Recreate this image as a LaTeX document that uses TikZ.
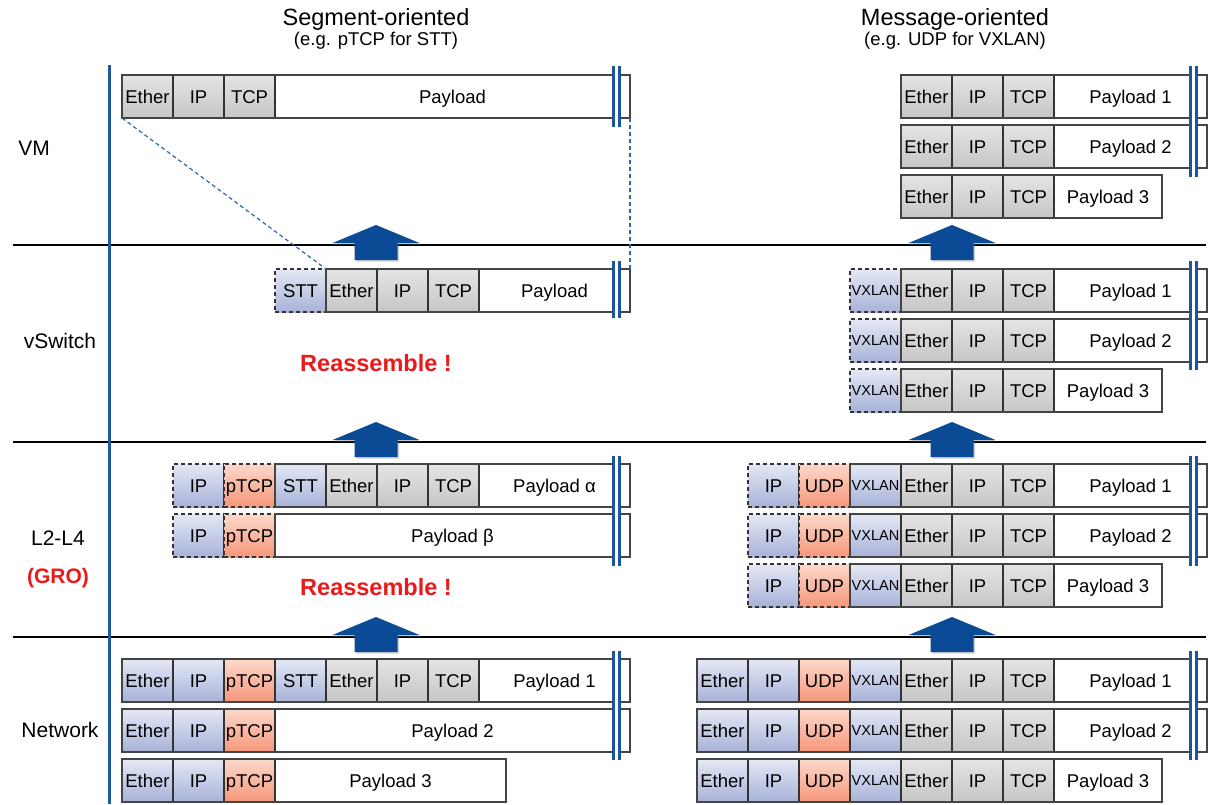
\documentclass[tikz,border=0pt]{standalone}
\usepackage{fontspec}
\setmainfont{Liberation Sans}
\usetikzlibrary{shadows}
\definecolor{g1}{HTML}{E4E4E4}
\definecolor{g2}{HTML}{C6C6C6}
\definecolor{b1}{HTML}{E4E8F5}
\definecolor{b2}{HTML}{A8B2D8}
\definecolor{o1}{HTML}{FDD8CA}
\definecolor{o2}{HTML}{F5977A}
\definecolor{cellline}{HTML}{333333}
\definecolor{boxline}{HTML}{444444}
\definecolor{axisblue}{HTML}{1F5A9E}
\definecolor{barblue}{HTML}{1A559E}
\definecolor{arrowblue}{HTML}{0B4A94}
\definecolor{dashblue}{HTML}{2A66B2}
\definecolor{redc}{RGB}{235,25,25}
\newcommand\cellfont{\fontsize{18.5}{20}\selectfont}
\newcommand\vxfont{\fontsize{14.5}{16}\selectfont}
\tikzset{
  cell/.style={draw=cellline, line width=1.2pt, inner sep=0pt, outer sep=0pt,
    minimum height=43pt, anchor=north west, font=\cellfont, text=black,
    text height=16pt, text depth=2pt},
  vx/.style={font=\vxfont, text height=12.4pt, text depth=2pt},
  ctype/.is choice,
  ctype/gr/.style={top color=g1, bottom color=g2},
  ctype/bl/.style={top color=b1, bottom color=b2},
  ctype/blv/.style={top color=b1, bottom color=b2, vx},
  ctype/og/.style={top color=o1, bottom color=o2},
  ctype/dsb/.style={top color=b1, bottom color=b2, dash pattern=on 4pt off 3pt},
  ctype/dsbv/.style={top color=b1, bottom color=b2, dash pattern=on 4pt off 3pt, vx},
  ctype/dso/.style={top color=o1, bottom color=o2, dash pattern=on 4pt off 3pt},
  outerbox/.style={draw=boxline, line width=1.8pt},
  layerline/.style={draw=black, line width=2.5pt},
  axisline/.style={draw=axisblue, line width=3pt},
  barline/.style={draw=barblue, line width=3pt},
  bigarrow/.style={fill=arrowblue, drop shadow={shadow xshift=1.5pt, shadow yshift=-1.5pt, opacity=0.35}},
  linkdash/.style={draw=dashblue, line width=1.2pt, dash pattern=on 4pt off 3pt},
  lbl/.style={font=\fontsize{21}{23}\selectfont, inner sep=0pt},
  ttl/.style={font=\fontsize{23.5}{26}\selectfont, inner sep=0pt},
  sub/.style={font=\fontsize{18.5}{20}\selectfont, inner sep=0pt},
  redtxt/.style={font=\bfseries\fontsize{23.5}{26}\selectfont, text=redc, inner sep=0pt},
}
% #1 prefix, #2 y top, #3 x of first cell, #4 list type/text, #5 payload right x, #6 payload text
\newcommand\pktrow[6]{%
  \foreach \st/\tx [count=\i] in {#4} {
    \pgfmathsetmacro\xa{#3+51*(\i-1)}
    \node[cell, ctype=\st, minimum width=51pt] (#1-\i) at (\xa,#2) {\tx};
    \xdef\lastx{\xa}
  }
  \pgfmathsetmacro\xb{\lastx+51}
  \node[cell, fill=white, minimum width={#5-\xb}] (#1-p) at (\xb,#2) {#6};
}
% break bars: #1 right edge x, #2 y1, #3 y2
\newcommand\brkbars[3]{%
  \fill[white] ({#1-18},#2) rectangle ({#1-9},#3);
  \draw[barline] ({#1-16.5},#2) -- ({#1-16.5},#3);
  \draw[barline] ({#1-10.5},#2) -- ({#1-10.5},#3);
}
% up arrow: #1 centre x, #2 layer line y
\newcommand\uparr[2]{%
  \fill[bigarrow] ({#1-21.5},{#2+15}) -- ({#1-21.5},{#2-2}) -- ({#1-43.5},{#2-2}) -- (#1,{#2-20})
    -- ({#1+43.5},{#2-2}) -- ({#1+21.5},{#2-2}) -- ({#1+21.5},{#2+15}) -- cycle;
}
\begin{document}
\begin{tikzpicture}[x=1pt,y=-1pt]
\useasboundingbox (0,0) rectangle (1217,804);
% titles
\node[ttl] (t1) at (376,19) {Segment-oriented};
\node[sub] (t1s) at (376,41) {(e.g. pTCP for STT)};
\node[ttl] (t2) at (955,19) {Message-oriented};
\node[sub] (t2s) at (955,41) {(e.g. UDP for VXLAN)};
% layer labels
\node[lbl] (lvm) at (34,148) {VM};
\node[lbl] (lsw) at (60,341) {vSwitch};
\node[lbl] (lll) at (58,538) {L2-L4};
\node[lbl, font=\bfseries\fontsize{21}{23}\selectfont, text=redc] (lgro) at (58,578) {(GRO)};
\node[lbl] (lnet) at (60,730) {Network};
% layer lines
\draw[layerline] (13,245) -- (1206,245);
\draw[layerline] (13,442) -- (1206,442);
\draw[layerline] (13,637) -- (1206,637);
\draw[axisline] (109,65) -- (109,804);
% arrows
\uparr{376}{245}
\uparr{376}{442}
\uparr{376}{637}
\uparr{952}{245}
\uparr{952}{442}
\uparr{952}{637}
% reassemble labels
\node[redtxt] (re1) at (376,363) {Reassemble !};
\node[redtxt] (re2) at (376,587) {Reassemble !};
% ---------- left column ----------
\pktrow{LVM}{75}{122}{gr/Ether, gr/IP, gr/TCP}{630}{Payload}
\draw[outerbox] (LVM-1.north west) rectangle (LVM-p.south east);
\pktrow{LSW}{269}{275}{dsb/STT, gr/Ether, gr/IP, gr/TCP}{630}{Payload}
\draw[outerbox] (LSW-2.north west) rectangle (LSW-p.south east);
\pktrow{LLa}{464}{173}{dsb/IP, dso/pTCP, bl/STT, gr/Ether, gr/IP, gr/TCP}{630}{Payload α}
\draw[outerbox] (LLa-3.north west) rectangle (LLa-p.south east);
\pktrow{LLb}{514}{173}{dsb/IP, dso/pTCP}{630}{Payload β}
\draw[outerbox] (LLb-p.north west) rectangle (LLb-p.south east);
\pktrow{LNa}{659}{122}{bl/Ether, bl/IP, og/pTCP, bl/STT, gr/Ether, gr/IP, gr/TCP}{630}{Payload 1}
\draw[outerbox] (LNa-1.north west) rectangle (LNa-p.south east);
\pktrow{LNb}{709}{122}{bl/Ether, bl/IP, og/pTCP}{630}{Payload 2}
\draw[outerbox] (LNb-1.north west) rectangle (LNb-p.south east);
\pktrow{LNc}{759}{122}{bl/Ether, bl/IP, og/pTCP}{506}{Payload 3}
\draw[outerbox] (LNc-1.north west) rectangle (LNc-p.south east);
% ---------- right column ----------
\pktrow{RVa}{75}{901}{gr/Ether, gr/IP, gr/TCP}{1207}{Payload 1}
\draw[outerbox] (RVa-1.north west) rectangle (RVa-p.south east);
\pktrow{RVb}{125}{901}{gr/Ether, gr/IP, gr/TCP}{1207}{Payload 2}
\draw[outerbox] (RVb-1.north west) rectangle (RVb-p.south east);
\pktrow{RVc}{175}{901}{gr/Ether, gr/IP, gr/TCP}{1162}{Payload 3}
\draw[outerbox] (RVc-1.north west) rectangle (RVc-p.south east);
\pktrow{RSa}{269}{850}{dsbv/VXLAN, gr/Ether, gr/IP, gr/TCP}{1207}{Payload 1}
\draw[outerbox] (RSa-2.north west) rectangle (RSa-p.south east);
\pktrow{RSb}{319}{850}{dsbv/VXLAN, gr/Ether, gr/IP, gr/TCP}{1207}{Payload 2}
\draw[outerbox] (RSb-2.north west) rectangle (RSb-p.south east);
\pktrow{RSc}{369}{850}{dsbv/VXLAN, gr/Ether, gr/IP, gr/TCP}{1162}{Payload 3}
\draw[outerbox] (RSc-2.north west) rectangle (RSc-p.south east);
\pktrow{RLa}{464}{748}{dsb/IP, dso/UDP, blv/VXLAN, gr/Ether, gr/IP, gr/TCP}{1207}{Payload 1}
\draw[outerbox] (RLa-3.north west) rectangle (RLa-p.south east);
\pktrow{RLb}{514}{748}{dsb/IP, dso/UDP, blv/VXLAN, gr/Ether, gr/IP, gr/TCP}{1207}{Payload 2}
\draw[outerbox] (RLb-3.north west) rectangle (RLb-p.south east);
\pktrow{RLc}{564}{748}{dsb/IP, dso/UDP, blv/VXLAN, gr/Ether, gr/IP, gr/TCP}{1162}{Payload 3}
\draw[outerbox] (RLc-3.north west) rectangle (RLc-p.south east);
\pktrow{RNa}{659}{697}{bl/Ether, bl/IP, og/UDP, blv/VXLAN, gr/Ether, gr/IP, gr/TCP}{1207}{Payload 1}
\draw[outerbox] (RNa-1.north west) rectangle (RNa-p.south east);
\pktrow{RNb}{709}{697}{bl/Ether, bl/IP, og/UDP, blv/VXLAN, gr/Ether, gr/IP, gr/TCP}{1207}{Payload 2}
\draw[outerbox] (RNb-1.north west) rectangle (RNb-p.south east);
\pktrow{RNc}{759}{697}{bl/Ether, bl/IP, og/UDP, blv/VXLAN, gr/Ether, gr/IP, gr/TCP}{1162}{Payload 3}
\draw[outerbox] (RNc-1.north west) rectangle (RNc-p.south east);
% dashed links VM -> vSwitch
\draw[linkdash] (LVM-1.south west) -- (LSW-2.north west);
\draw[linkdash] (LVM-p.south east) -- (LSW-p.north east);
% break bars
\brkbars{630}{66}{127}
\brkbars{630}{261}{318}
\brkbars{630}{456}{566}
\brkbars{630}{651}{760}
\brkbars{1207}{66}{177}
\brkbars{1207}{261}{370}
\brkbars{1207}{456}{566}
\brkbars{1207}{651}{760}
\end{tikzpicture}
\end{document}
